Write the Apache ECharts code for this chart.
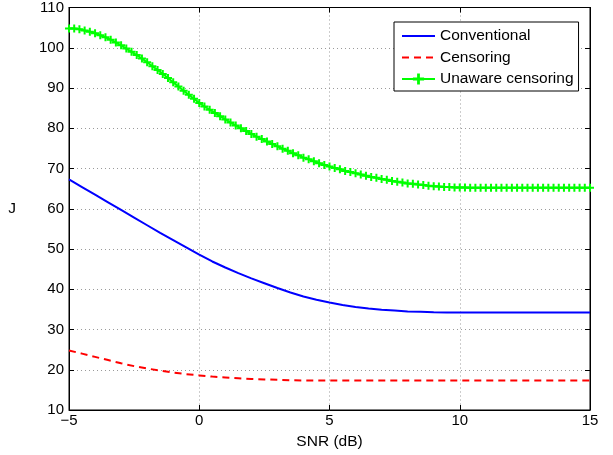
<!DOCTYPE html>
<html>
<head>
<meta charset="utf-8">
<script src="https://cdn.jsdelivr.net/npm/echarts@6/dist/echarts.min.js"></script>
<style>
  html, body { margin: 0; padding: 0; background: #fff; }
  #chart { width: 613px; height: 455px; }
</style>
</head>
<body>
<div id="chart"></div>
<script>
// SNR grid (dB) for the two smooth curves, 0.5 dB steps
const snrCoarse = [-5, -4.5, -4, -3.5, -3, -2.5, -2, -1.5, -1, -0.5, 0, 0.5, 1, 1.5, 2, 2.5, 3, 3.5, 4, 4.5, 5,
  5.5, 6, 6.5, 7, 7.5, 8, 8.5, 9, 9.5, 10, 10.5, 11, 11.5, 12, 12.5, 13, 13.5, 14, 14.5, 15];

const conventional = [67.3, 65.4, 63.5, 61.6, 59.7, 57.8, 55.9, 54.0, 52.2, 50.4, 48.6, 46.9, 45.4, 44.0, 42.7, 41.5,
  40.3, 39.2, 38.2, 37.4, 36.7, 36.1, 35.6, 35.2, 34.9, 34.7, 34.5, 34.4, 34.3, 34.25, 34.2, 34.2, 34.2, 34.2, 34.2,
  34.2, 34.2, 34.2, 34.2, 34.2, 34.2];

const censoring = [24.8, 24.0, 23.2, 22.4, 21.6, 20.9, 20.3, 19.8, 19.3, 18.9, 18.6, 18.3, 18.1, 17.9, 17.7, 17.6,
  17.5, 17.4, 17.35, 17.3, 17.3, 17.3, 17.3, 17.3, 17.3, 17.3, 17.3, 17.3, 17.3, 17.3, 17.3, 17.3, 17.3, 17.3, 17.3,
  17.3, 17.3, 17.3, 17.3, 17.3, 17.3];

// SNR grid (dB) for the marked curve, 0.2 dB steps
const snrFine = [-5, -4.8, -4.6, -4.4, -4.2, -4, -3.8, -3.6, -3.4, -3.2, -3, -2.8, -2.6, -2.4, -2.2, -2, -1.8, -1.6,
  -1.4, -1.2, -1, -0.8, -0.6, -0.4, -0.2, 0, 0.2, 0.4, 0.6, 0.8, 1, 1.2, 1.4, 1.6, 1.8, 2, 2.2, 2.4, 2.6, 2.8, 3,
  3.2, 3.4, 3.6, 3.8, 4, 4.2, 4.4, 4.6, 4.8, 5, 5.2, 5.4, 5.6, 5.8, 6, 6.2, 6.4, 6.6, 6.8, 7, 7.2, 7.4, 7.6, 7.8,
  8, 8.2, 8.4, 8.6, 8.8, 9, 9.2, 9.4, 9.6, 9.8, 10, 10.2, 10.4, 10.6, 10.8, 11, 11.2, 11.4, 11.6, 11.8, 12, 12.2,
  12.4, 12.6, 12.8, 13, 13.2, 13.4, 13.6, 13.8, 14, 14.2, 14.4, 14.6, 14.8, 15];

const unaware = [104.8, 104.8, 104.6, 104.3, 104.0, 103.6, 103.1, 102.6, 102.0, 101.3, 100.6, 99.8, 99.0, 98.2,
  97.3, 96.4, 95.4, 94.5, 93.5, 92.5, 91.4, 90.4, 89.3, 88.3, 87.3, 86.3, 85.4, 84.6, 83.8, 83.0, 82.2, 81.4, 80.7,
  80.0, 79.3, 78.6, 77.9, 77.3, 76.7, 76.1, 75.5, 74.9, 74.4, 73.8, 73.3, 72.7, 72.3, 71.8, 71.3, 70.9, 70.5, 70.1,
  69.8, 69.4, 69.1, 68.8, 68.5, 68.2, 67.9, 67.7, 67.4, 67.2, 66.9, 66.7, 66.5, 66.3, 66.2, 66.0, 65.9, 65.7, 65.6,
  65.5, 65.4, 65.4, 65.3, 65.3, 65.3, 65.2, 65.2, 65.2, 65.2, 65.2, 65.2, 65.2, 65.2, 65.2, 65.2, 65.2, 65.2, 65.2,
  65.2, 65.2, 65.2, 65.2, 65.2, 65.2, 65.2, 65.2, 65.2, 65.2, 65.2];

const seriesNames = ['Conventional', 'Censoring', 'Unaware censoring'];
const xTicks = [-5, 0, 5, 10, 15];
const yTicks = [10, 20, 30, 40, 50, 60, 70, 80, 90, 100, 110];

const zip = (xs, ys) => xs.map((x, i) => [x, ys[i]]);
const FONT = 'Liberation Sans, Arial, Helvetica, sans-serif';
const plusPath = 'path://M3,0h2v3h3v2h-3v3h-2v-3h-3v-2h3z';

const chart = echarts.init(document.getElementById('chart'), null, { renderer: 'canvas' });

const baseX = {
  type: 'value', min: xTicks[0], max: xTicks[xTicks.length - 1], interval: 5
};
const baseY = {
  type: 'value', min: yTicks[0], max: yTicks[yTicks.length - 1], interval: 10
};
const minus = v => String(v).replace('-', '\u2212');
const frameLine = { show: true, onZero: false, lineStyle: { color: '#000', width: 1 } };
const innerTick = { inside: true, length: 5, lineStyle: { color: '#000' } };
const dotted = { show: true, lineStyle: { color: '#9a9a9a', type: [1, 3], width: 1 } };

chart.setOption({
  animation: false,
  backgroundColor: '#fff',
  grid: {
    left: 69, right: 23, top: 7, bottom: 42,
    show: true, borderColor: '#000', borderWidth: 1, backgroundColor: '#fff'
  },
  xAxis: [
    Object.assign({}, baseX, {
      position: 'bottom',
      name: 'SNR (dB)', nameLocation: 'middle', nameGap: 24,
      nameTextStyle: { fontFamily: FONT, fontSize: 15.5, color: '#000' },
      axisLine: frameLine,
      axisTick: innerTick,
      axisLabel: { fontFamily: FONT, fontSize: 15, color: '#000', margin: 3, formatter: minus },
      splitLine: dotted
    }),
    Object.assign({}, baseX, {
      position: 'top',
      axisLine: frameLine,
      axisTick: innerTick,
      axisLabel: { show: false },
      splitLine: { show: false }
    })
  ],
  yAxis: [
    Object.assign({}, baseY, {
      position: 'left',
      name: 'J', nameLocation: 'middle', nameGap: 53, nameRotate: 0,
      nameTextStyle: { fontFamily: FONT, fontSize: 15.5, color: '#000' },
      axisLine: frameLine,
      axisTick: innerTick,
      axisLabel: { fontFamily: FONT, fontSize: 15, color: '#000', margin: 5 },
      splitLine: dotted
    }),
    Object.assign({}, baseY, {
      position: 'right',
      axisLine: frameLine,
      axisTick: innerTick,
      axisLabel: { show: false },
      splitLine: { show: false }
    })
  ],
  legend: {
    orient: 'vertical',
    left: 394, top: 22,
    padding: [6, 5, 4, 7],
    itemGap: 5.5,
    itemWidth: 33, itemHeight: 14,
    backgroundColor: '#fff',
    borderColor: '#000', borderWidth: 1,
    textStyle: { fontFamily: FONT, fontSize: 15.5, color: '#000' },
    data: [
      { name: seriesNames[0], itemStyle: { opacity: 0 } },
      { name: seriesNames[1], itemStyle: { opacity: 0 } },
      { name: seriesNames[2] }
    ]
  },
  series: [
    {
      name: seriesNames[0], type: 'line', data: zip(snrCoarse, conventional),
      showSymbol: false, symbol: 'none', smooth: false,
      lineStyle: { color: '#0000ff', width: 2 }, itemStyle: { color: '#0000ff' }, z: 3
    },
    {
      name: seriesNames[1], type: 'line', data: zip(snrCoarse, censoring),
      showSymbol: false, symbol: 'none', smooth: false,
      lineStyle: { color: '#ff0000', width: 2, type: [7, 5] }, itemStyle: { color: '#ff0000' }, z: 3
    },
    {
      name: seriesNames[2], type: 'line', data: zip(snrFine, unaware),
      symbol: plusPath, symbolSize: 8, showAllSymbol: true, smooth: false,
      lineStyle: { color: '#00ff00', width: 2 }, itemStyle: { color: '#00ff00' }, z: 4
    }
  ]
});
</script>
</body>
</html>
